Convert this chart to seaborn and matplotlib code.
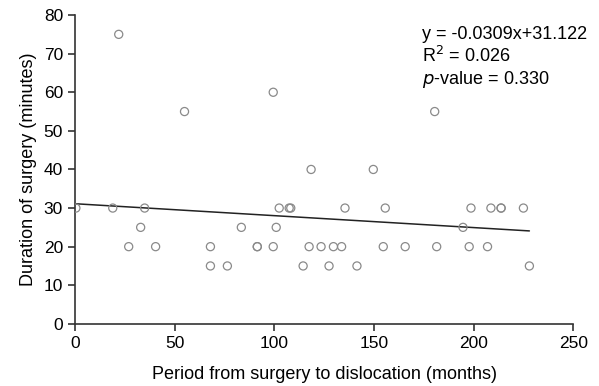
import numpy as np
import pandas as pd
import matplotlib
matplotlib.use("Agg")
import matplotlib.pyplot as plt
import seaborn as sns

# months from surgery to dislocation, surgery duration (min)
months = [0.5, 19, 22, 27, 33, 35, 40.5, 55, 68, 68, 76.5, 83.5, 91.5, 91.5,
          99.5, 99.5, 101, 102.5, 107.5, 108.3, 114.5, 117.5, 118.5, 123.5, 127.5,
          129.7, 133.8, 135.5, 141.5, 149.7, 154.7, 155.7, 165.7, 180.5, 181.5,
          194.7, 197.8, 198.7, 207, 208.7, 213.8, 213.8, 225, 228]
duration = [30, 30, 75, 20, 25, 30, 20, 55, 20, 15, 15, 25, 20, 20,
            60, 20, 25, 30, 30, 30, 15, 20, 40, 20, 15,
            20, 20, 30, 15, 40, 20, 30, 20, 55, 20,
            25, 20, 30, 20, 30, 30, 30, 30, 15]

slope = -0.0309
intercept = 31.122
r2 = 0.026
pval = 0.330

df = pd.DataFrame({"months": months, "duration": duration})

sns.set_style("ticks", {"text.color": "black", "axes.labelcolor": "black",
                        "xtick.color": "#333333", "ytick.color": "#333333"})
plt.rcParams['font.family'] = ['Liberation Sans', 'DejaVu Sans']

fig = plt.figure(figsize=(5.99, 3.86), dpi=100)
ax = fig.add_axes([0.125, 0.161, 0.832, 0.8])

sns.scatterplot(data=df, x="months", y="duration", ax=ax, s=34,
                facecolors="none", edgecolor="#8a8a8a", linewidth=0.9, zorder=3)

# fitted line over the observed range
xs = np.array([df["months"].min(), df["months"].max()])
sns.lineplot(x=xs, y=slope * xs + intercept, ax=ax, color="#222222", linewidth=1.1)

ax.set_xlim(0, 250)
ax.set_ylim(0, 80)
ax.set_xticks(range(0, 251, 50))
ax.set_yticks(range(0, 81, 10))
ax.tick_params(labelsize=12.5, length=5, width=1.2, labelcolor="black")
for s in ["left", "bottom"]:
    ax.spines[s].set_linewidth(1.2)
    ax.spines[s].set_color("#333333")
sns.despine(ax=ax)

ax.set_xlabel("Period from surgery to dislocation (months)", fontsize=13, labelpad=11)
ax.set_ylabel("Duration of surgery (minutes)", fontsize=13, labelpad=5)

txt = (f"y = {slope}x+{intercept}\n"
       f"R$^2$ = {r2:.3f}\n"
       f"$\\it{{p}}$-value = {pval:.3f}")
ax.text(0.696, 0.965, txt, transform=ax.transAxes, fontsize=13,
        va="top", ha="left", linespacing=1.2, color="black")

fig.savefig("out.png", dpi=100)
